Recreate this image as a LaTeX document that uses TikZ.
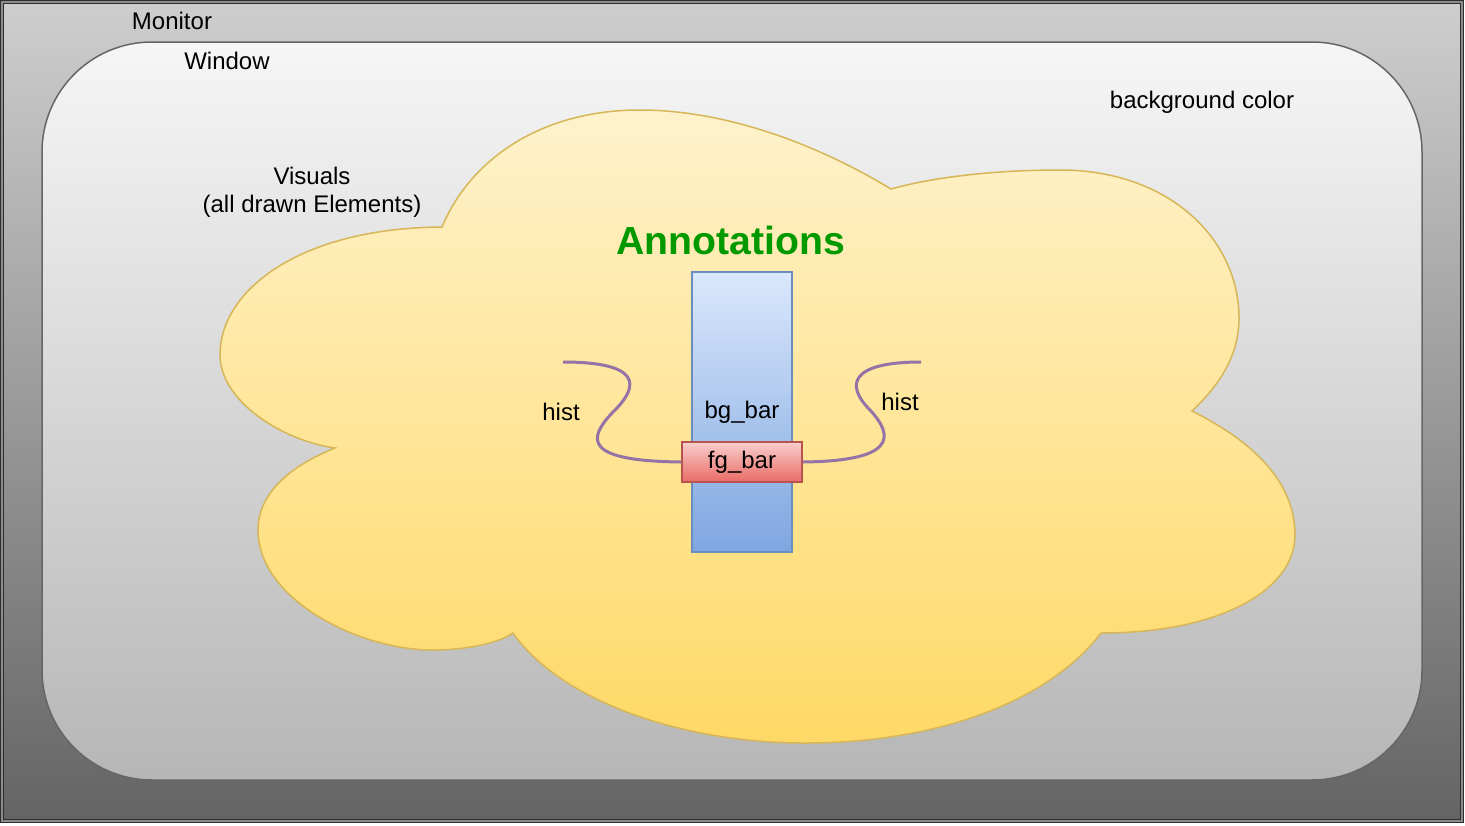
\documentclass[tikz,border=0pt]{standalone}
\usepackage{fontspec}
\setmainfont{Liberation Sans}
\usetikzlibrary{positioning}

\definecolor{monitortop}{HTML}{CECECE}
\definecolor{monitorbot}{HTML}{646464}
\definecolor{monitorline}{HTML}{2E2E2E}
\definecolor{monitorgap}{HTML}{8C8C8C}
\definecolor{windowtop}{HTML}{F6F6F6}
\definecolor{windowbot}{HTML}{B6B6B6}
\definecolor{windowline}{HTML}{666666}
\definecolor{cloudtop}{HTML}{FFF2CC}
\definecolor{cloudbot}{HTML}{FFD966}
\definecolor{cloudline}{HTML}{D6B656}
\definecolor{bgtop}{HTML}{DAE8FC}
\definecolor{bgbot}{HTML}{7EA6E0}
\definecolor{bgline}{HTML}{6C8EBF}
\definecolor{fgtop}{HTML}{F8CECC}
\definecolor{fgbot}{HTML}{EA6B66}
\definecolor{fgline}{HTML}{B85450}
\definecolor{histcolor}{HTML}{9673A6}
\definecolor{annogreen}{HTML}{009900}

\begin{document}
\begin{tikzpicture}[x=0.5pt, y=-0.5pt]
    \tikzset{txt/.style = {font=\fontsize{12}{14}\selectfont, align=center, inner sep=0pt},
             monitorbox/.style = {rectangle, draw=monitorline, line width=0.6pt, double=monitorgap,
                                  double distance=0.9pt, top color=monitortop, bottom color=monitorbot,
                                  minimum width=730pt, minimum height=409.5pt},
             windowbox/.style = {rectangle, rounded corners=55pt, draw=windowline, line width=0.75pt,
                                 top color=windowtop, bottom color=windowbot,
                                 minimum width=690pt, minimum height=369pt},
             cloudfill/.style = {draw=cloudline, line width=0.75pt, top color=cloudtop, bottom color=cloudbot},
             bgbox/.style = {draw=bgline, rectangle, line width=0.75pt, top color=bgtop, bottom color=bgbot,
                             minimum width=50pt, minimum height=140pt, txt},
             fgbox/.style = {draw=fgline, rectangle, line width=0.75pt, top color=fgtop, bottom color=fgbot,
                             minimum width=60pt, minimum height=20pt, txt},
             histline/.style = {draw=histcolor, line width=1.5pt}
            }
    \useasboundingbox (0,0) rectangle (1465,825);

    \node (monitor) [monitorbox] at (732,411.5) {};
    \node (window) [windowbox] at (732,411) {};

    % cloud of visuals
    \path[cloudfill] (442,227) .. controls (300,228) and (220,290) .. (220,355)
        .. controls (220,400) and (280,440) .. (335,448)
        .. controls (280,470) and (258,500) .. (258,530)
        .. controls (258,600) and (360,650) .. (432,650)
        .. controls (470,650) and (500,642) .. (513,633)
        .. controls (560,700) and (680,743) .. (805,743)
        .. controls (940,743) and (1050,700) .. (1101,633)
        .. controls (1220,633) and (1295,590) .. (1295,535)
        .. controls (1295,480) and (1250,440) .. (1192,411)
        .. controls (1225,380) and (1239,350) .. (1239,318)
        .. controls (1239,240) and (1170,170) .. (1060,170)
        .. controls (990,170) and (930,178) .. (891,189)
        .. controls (810,140) and (720,110) .. (640,110)
        .. controls (540,110) and (470,160) .. (442,227) -- cycle;

    \node (monitorlbl) [txt] at (172,21) {Monitor};
    \node (windowlbl) [txt] at (227,61) {Window};
    \node (bglbl) [txt] at (1202,102) {background color};
    \node (visuals) [txt] at (312,192) {Visuals\\(all drawn Elements)};

    \node (bgbar) [bgbox] at (742,412) {bg\_bar};
    \node (fgbar) [fgbox, above=35pt of bgbar.south] {fg\_bar};
    \node (annot) [txt, font=\fontsize{19.6}{23}\selectfont\bfseries, text=annogreen] at (731,240) {Annotations};

    \coordinate (histL) at (563,362);
    \coordinate (histR) at (921,362);
    \node (histLlbl) [txt] at (561,412) {hist};
    \node (histRlbl) [txt] at (900,402) {hist};
    \draw[histline] (fgbar.west) .. controls (585,461) and (585,440) .. (615,410)
        .. controls (640,385) and (640,362) .. (histL);
    \draw[histline] (fgbar.east) .. controls (895,461) and (895,437) .. (870,410)
        .. controls (845,385) and (850,362) .. (histR);
\end{tikzpicture}
\end{document}
